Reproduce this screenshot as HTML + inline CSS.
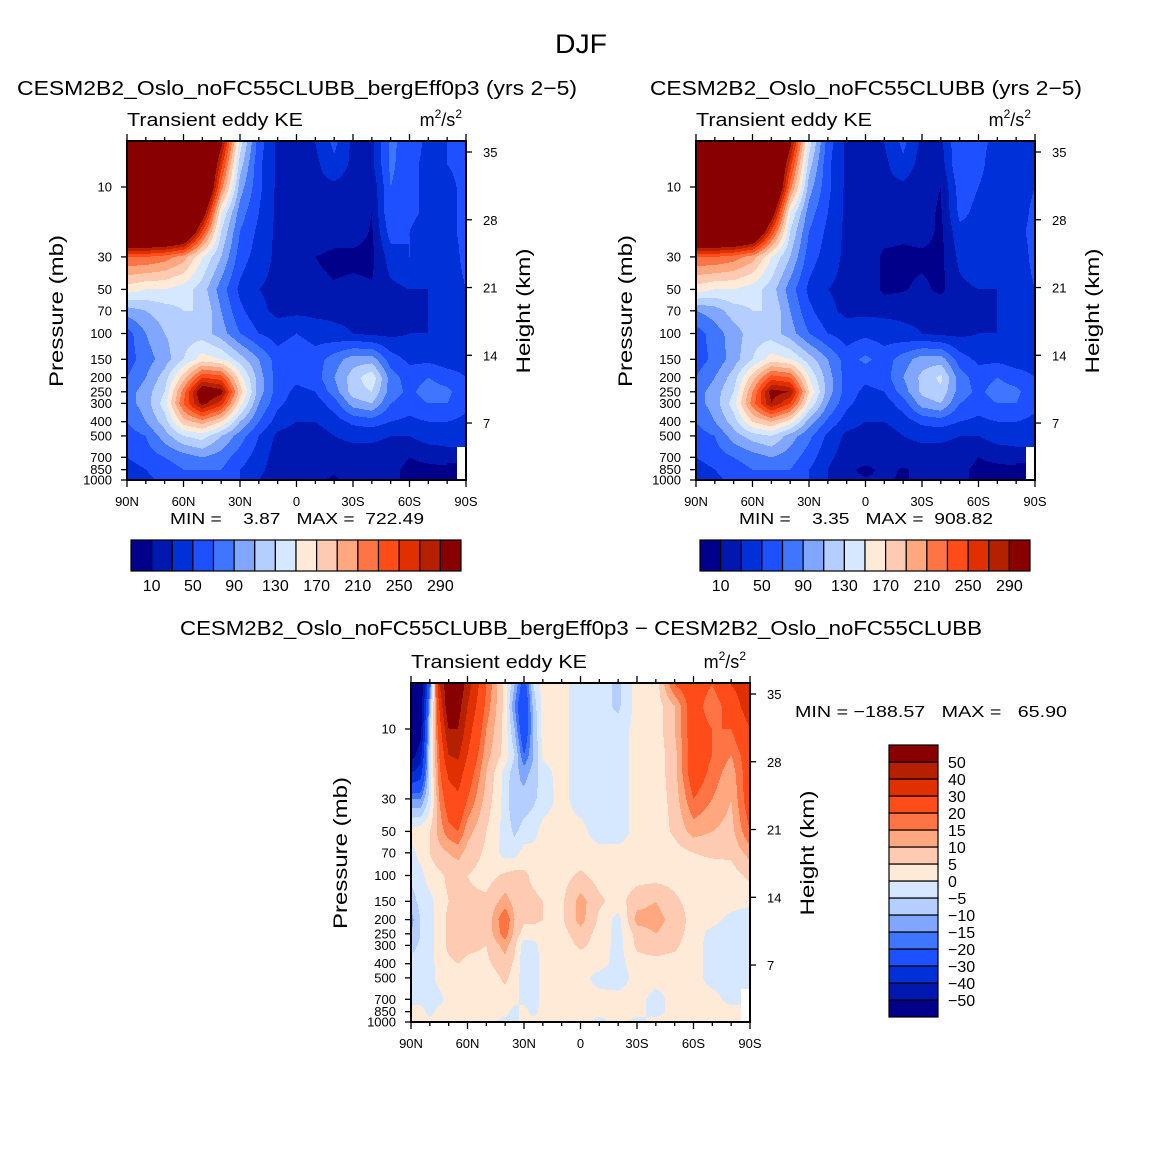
<!DOCTYPE html>
<html><head><meta charset="utf-8">
<style>
html,body{margin:0;padding:0;background:#fff;}
svg{display:block;font-family:"Liberation Sans",sans-serif;}
text{fill:#000;}
</style></head>
<body>
<svg id="fig" width="1163" height="1160" viewBox="0 0 1163 1160" xmlns="http://www.w3.org/2000/svg">
<rect width="1163" height="1160" fill="#fff"/>
<text x="555" y="53" font-size="27" textLength="52" lengthAdjust="spacingAndGlyphs">DJF</text>
<text x="17" y="95" font-size="20" textLength="560" lengthAdjust="spacingAndGlyphs">CESM2B2_Oslo_noFC55CLUBB_bergEff0p3 (yrs 2−5)</text>
<text x="650" y="95" font-size="20" textLength="432" lengthAdjust="spacingAndGlyphs">CESM2B2_Oslo_noFC55CLUBB (yrs 2−5)</text>
<text x="180" y="635" font-size="20" textLength="802" lengthAdjust="spacingAndGlyphs">CESM2B2_Oslo_noFC55CLUBB_bergEff0p3 − CESM2B2_Oslo_noFC55CLUBB</text>
<g id="layer"></g>
</svg>
<script>
// ---------- data ----------
const presLevels = [5,7,10,15,20,30,50,70,100,150,200,250,300,400,500,700,850,1000];
const latsTop = [90,80,70,60,50,40,30,20,10,0,-10,-20,-30,-40,-50,-60,-70,-80,-90];
const latsDiff = [90,85,80,75,70,65,60,50,40,35,30,25,20,10,0,-10,-20,-30,-40,-50,-60,-70,-80,-90];
const N = null;
const keLeft = [
[400,400,400,400,400,300,140,60,25,25,30,55,25,25,75,60,45,50,55],
[400,400,400,400,400,260,120,55,25,25,25,45,25,25,75,55,45,50,55],
[400,400,400,400,400,220,100,55,25,25,25,25,20,15,70,55,45,45,55],
[400,400,400,400,320,150,80,50,25,25,25,25,20,10,70,55,45,45,55],
[400,400,400,380,250,130,70,45,25,25,25,20,20,8,60,50,40,45,55],
[230,230,220,200,150,110,60,40,25,25,10,5,5,5,40,50,40,40,55],
[160,150,150,140,120,80,45,30,25,25,15,12,15,12,25,30,30,40,50],
[100,110,120,130,130,90,55,35,25,25,25,25,25,25,25,25,30,35,45],
[60,90,110,120,120,100,70,50,40,50,40,35,30,25,25,30,30,30,35],
[60,80,100,130,160,150,120,90,60,70,60,80,100,100,60,45,45,40,40],
[70,90,120,180,250,240,160,100,60,55,60,90,120,145,80,60,70,60,50],
[80,100,130,220,320,300,180,100,60,45,50,80,120,130,80,65,80,75,55],
[80,100,140,230,300,260,160,90,55,40,40,60,100,110,70,60,70,70,55],
[70,90,120,180,200,170,110,70,40,30,30,40,55,60,50,45,50,50,45],
[60,70,100,130,140,110,80,50,25,20,20,30,35,35,30,30,40,40,35],
[50,60,70,80,90,80,60,40,20,20,15,20,20,20,20,10,15,20,N],
[40,50,60,70,70,70,50,35,20,15,15,12,15,15,15,5,5,5,N],
[40,45,55,60,60,60,50,30,15,12,12,8,15,15,15,5,5,5,N]
];
const keRight = [
[400,400,400,400,400,300,140,60,25,25,30,55,25,25,70,55,45,45,50],
[400,400,400,400,400,260,120,55,25,25,25,45,20,20,70,55,40,45,50],
[400,400,400,400,400,220,100,55,25,25,25,25,15,10,60,50,40,40,50],
[400,400,400,400,320,150,80,50,25,25,25,25,15,8,55,45,40,40,55],
[400,400,400,380,250,130,70,45,25,25,20,15,20,5,45,45,40,45,55],
[230,230,220,200,150,110,60,40,25,25,5,5,5,5,35,45,40,40,55],
[160,150,150,140,120,80,45,30,25,25,5,8,15,5,25,30,30,40,50],
[90,100,120,130,130,90,55,35,25,25,25,25,25,25,25,25,30,35,45],
[60,80,100,120,120,100,70,50,40,45,40,35,30,25,25,30,30,30,35],
[60,75,100,130,160,150,120,90,60,75,60,80,100,100,60,45,45,40,40],
[70,90,120,180,240,230,150,100,60,55,60,90,115,135,80,60,70,60,50],
[80,100,130,210,300,290,170,100,60,45,50,80,115,125,80,65,80,75,55],
[80,100,140,220,290,250,150,90,55,40,40,60,100,110,70,60,70,70,55],
[70,90,120,170,190,160,100,65,40,30,30,40,55,60,50,45,50,50,45],
[60,70,100,120,130,100,75,45,25,20,20,30,35,35,30,30,40,40,35],
[50,60,70,80,90,80,60,35,20,20,15,20,20,20,20,10,15,20,N],
[40,50,60,70,70,70,50,30,15,5,15,8,15,15,15,5,5,5,N],
[40,45,55,60,60,60,50,30,15,12,12,8,15,15,15,5,5,5,N]
];
const keDiff = [
[-60,-60,-20,40,60,60,45,20,3,-10,-25,-5,2,2,-3,-3,-6,2,2,20,25,20,30,35],
[-60,-60,-10,30,60,55,40,18,3,-15,-30,-8,2,2,-3,-3,-6,2,2,10,25,15,25,35],
[-60,-55,-5,25,50,50,35,15,3,-10,-28,-10,2,2,-3,-3,-3,2,2,10,25,20,20,30],
[-55,-45,-3,20,40,42,30,12,3,-5,-20,-10,1,2,-3,-3,-3,2,2,8,25,20,15,25],
[-40,-35,-3,18,32,35,25,10,-2,-8,-12,-8,-2,2,-3,-3,-3,2,2,8,25,18,12,25],
[-15,-15,-3,15,25,28,20,8,-2,-10,-8,-6,-3,2,-3,-3,-3,2,2,7,20,15,10,25],
[2,3,5,12,18,20,12,5,-2,-6,-3,-2,2,2,2,-3,-3,2,2,6,12,10,8,20],
[-2,2,5,8,10,12,8,4,-2,-2,2,2,2,2,2,2,2,2,2,3,5,6,6,12],
[-3,-2,3,4,6,6,5,3,6,7,6,4,3,3,6,3,2,3,3,3,2,2,3,6],
[-8,-3,-2,3,5,7,6,6,12,8,6,6,5,4,12,6,3,8,10,6,3,3,3,2],
[-12,-5,-2,3,6,8,8,6,20,10,6,6,5,4,12,4,-2,12,12,8,3,2,-2,-5],
[-10,-5,-2,3,6,10,8,6,18,8,3,3,3,3,8,3,-2,7,10,7,3,-2,-2,-5],
[-7,-4,-2,3,6,8,6,5,12,6,-3,-2,2,2,6,3,-2,6,8,6,2,-2,-2,-3],
[-3,-3,-2,2,4,5,4,4,8,4,-3,-3,2,2,2,2,-2,3,3,3,2,-2,-2,-3],
[-2,-2,-2,2,3,4,3,2,6,3,-3,-3,2,2,2,-2,-3,2,2,2,2,-2,-2,-3],
[-2,-2,-2,-2,2,2,2,2,3,2,-2,-3,2,2,2,2,2,2,-2,2,2,2,-2,N],
[2,2,-2,2,2,2,2,2,2,-2,2,-2,2,2,2,2,2,2,-2,2,2,2,2,N],
[2,2,2,2,2,2,2,2,-2,-2,2,2,2,2,2,-2,2,-2,2,2,2,2,2,N]
];
const levelsTop = [10,30,50,70,90,110,130,150,170,190,210,230,250,270,290];
const levelsDiff = [-50,-40,-30,-20,-15,-10,-5,0,5,10,15,20,30,40,50];
const colorsLbl = ['#00008a','#0018b0','#0030d8','#1e50ff','#4076ff','#80a6ff','#b4ceff','#d6e8ff','#ffead8','#ffcab2','#ffa880','#ff7444','#ff4c18','#e03000','#b42000','#880000'];
const presTicks = [10,30,50,70,100,150,200,250,300,400,500,700,850,1000];
const kmTicks = [35,28,21,14,7];
const lonTicks = ['90N','60N','30N','0','30S','60S','90S'];

// ---------- drawing ----------
const NS='http://www.w3.org/2000/svg';
const layer=document.getElementById('layer');
function mk(tag,attrs,parent){const e=document.createElementNS(NS,tag);for(const k in attrs)e.setAttribute(k,attrs[k]);(parent||layer).appendChild(e);return e;}
const W=339,H=339, LPTOP=3-339/146.5;
function yOfP(p,oy){return oy+(Math.log10(p)-LPTOP)*146.5;}
function colorIdx(v,levels){let k=0;while(k<levels.length&&v>=levels[k])k++;return k;}
function sample(lats,vals,lat,lp){
  const lps=presLevels.map(p=>Math.log10(p));
  let i=0;while(i<lps.length-2&&lp>lps[i+1])i++;
  let ty=(lp-lps[i])/(lps[i+1]-lps[i]);ty=Math.max(0,Math.min(1,ty));
  let j=0;while(j<lats.length-2&&lat<lats[j+1])j++;
  let tx=(lats[j]-lat)/(lats[j]-lats[j+1]);tx=Math.max(0,Math.min(1,tx));
  const a=vals[i][j],b=vals[i][j+1],c=vals[i+1][j],d=vals[i+1][j+1];
  if(a===null||b===null||c===null||d===null){
    const near=vals[ty<0.5?i:i+1][tx<0.5?j:j+1];return near;
  }
  return a*(1-tx)*(1-ty)+b*tx*(1-ty)+c*(1-tx)*ty+d*tx*ty;
}
function T(parent,attrs,s){const t=mk('text',attrs,parent);t.textContent=s;return t;}
function panel(name,ox,oy,lats,vals,levels){
  const g=mk('g',{});
  
  
  for(let r=0;r<H;r++){
    const lp=LPTOP+(r+0.5)/146.5;
    let runStart=0,runCol=null;
    for(let c=0;c<=W;c++){
      let col='end';
      if(c<W){const lat=90-(c+0.5)/W*180;const v=sample(lats,vals,lat,lp);col=v===null?'#ffffff':colorsLbl[colorIdx(v,levels)];}
      if(col!==runCol){
        if(runCol!==null&&runCol!=='end'){
          const rc=mk('rect',{x:ox+runStart,y:oy+r,width:c-runStart,height:1.05,fill:runCol},g);
          
          
        }
        runCol=col;runStart=c;
      }
    }
  }
  const fr=mk('rect',{x:ox,y:oy,width:W,height:H,fill:'none',stroke:'#000','stroke-width':2});
  
  
  for(let d=0;d<=18;d++){
    const x=ox+d/18*W, major=d%3===0, len=major?7:4;
    mk('line',{x1:x,y1:oy+H,x2:x,y2:oy+H+len,stroke:'#000','stroke-width':1.3});
    mk('line',{x1:x,y1:oy,x2:x,y2:oy-len,stroke:'#000','stroke-width':1.3});
  }
  lonTicks.forEach((t,i)=>{
    const tx=T(null,{x:ox+i/6*W,y:oy+H+26,'font-size':13,'text-anchor':'middle'},t);
    
    
  });
  presTicks.forEach(p=>{
    const y=yOfP(p,oy);
    mk('line',{x1:ox,y1:y,x2:ox-6,y2:y,stroke:'#000','stroke-width':1.3});
    const tx=T(null,{x:ox-15,y:y+4.5,'font-size':13,'text-anchor':'end'},p);
    
    
  });
  kmTicks.forEach(h=>{
    const y=oy+11+(35-h)*9.68;
    mk('line',{x1:ox+W,y1:y,x2:ox+W+6,y2:y,stroke:'#000','stroke-width':1.3});
    const tx=T(null,{x:ox+W+17,y:y+5,'font-size':13},h);
    
    
  });
  const yl=T(null,{x:0,y:0,'font-size':19,'text-anchor':'middle',textLength:152,lengthAdjust:'spacingAndGlyphs',transform:`translate(${ox-64},${oy+170}) rotate(-90)`},'Pressure (mb)');
  
  
  const yr=T(null,{x:0,y:0,'font-size':19,'text-anchor':'middle',textLength:125,lengthAdjust:'spacingAndGlyphs',transform:`translate(${ox+W+64},${oy+170}) rotate(-90)`},'Height (km)');
  
  
  const lt=T(null,{x:ox,y:oy-15,'font-size':18,textLength:176,lengthAdjust:'spacingAndGlyphs'},'Transient eddy KE');
  
  
  const un=mk('text',{x:ox+W-4,y:oy-15,'font-size':18,'text-anchor':'end'});
  un.innerHTML='m<tspan font-size="12" dy="-8">2</tspan><tspan dy="8">/s</tspan><tspan font-size="12" dy="-8">2</tspan>';
  
  
}
panel('left',127,141,latsTop,keLeft,levelsTop);
panel('right',696,141,latsTop,keRight,levelsTop);
panel('diff',411,683,latsDiff,keDiff,levelsDiff);

function txt(name,x,y,s,size,len){const t=mk('text',{x:x,y:y,'font-size':size,textLength:len,lengthAdjust:'spacingAndGlyphs'});t.setAttribute('style','white-space:pre');t.textContent=s;
  
  return t;}
txt('left-min-max',170,524,'MIN =    3.87   MAX =  722.49',16,254);
txt('right-min-max',739,524,'MIN =    3.35   MAX =  908.82',16,254);
txt('diff-min-max',795,717,'MIN = −188.57   MAX =   65.90',16,272);

function hbar(name,x0,y0,w,h){
  const g=mk('g',{});
  
  
  const bw=w/16;
  colorsLbl.forEach((c,i)=>{mk('rect',{x:x0+i*bw,y:y0,width:bw,height:h,fill:c,stroke:'#000','stroke-width':1.2},g);});
  levelsTop.forEach((l,i)=>{if(i%2===0){T(g,{x:x0+(i+1)*bw,y:y0+h+20,'font-size':16,'text-anchor':'middle'},l);}});
}
hbar('left-colorbar',131,540,330,31);
hbar('right-colorbar',700,540,330,31);
(function(){
  const g=mk('g',{});
  
  
  const x0=889,y0=745,w=49,bh=272/16;
  colorsLbl.forEach((c,i)=>{mk('rect',{x:x0,y:y0+(15-i)*bh,width:w,height:bh,fill:c,stroke:'#000','stroke-width':1.2},g);});
  levelsDiff.forEach((l,i)=>{T(g,{x:x0+w+10,y:y0+(15-i)*bh+6,'font-size':16},String(l).replace('-','−'));});
})();
</script>
</body></html>
